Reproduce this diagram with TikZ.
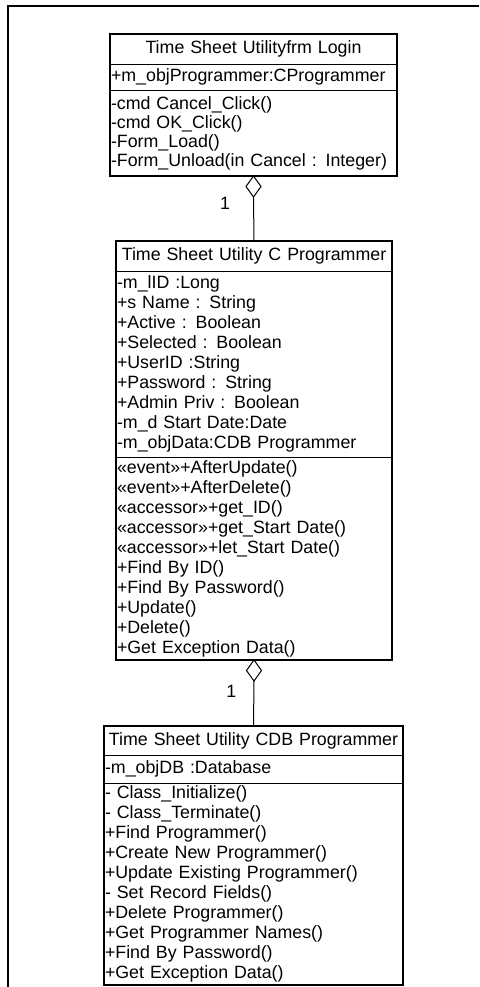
\documentclass[tikz,border=0pt]{standalone}
\usepackage{fontspec}
\setmainfont{Liberation Sans}
\usetikzlibrary{positioning,shapes.geometric}

\tikzset{
  classhead/.style={draw, line width=0.8pt, outer sep=0pt, inner sep=1pt, anchor=north},
  compart/.style={draw, line width=0.8pt, outer sep=0pt, inner xsep=1pt, inner ysep=0pt, align=left},
  classframe/.style={line width=1.8pt},
  agg/.style={diamond, draw, fill=white, line width=1pt, minimum width=15pt, minimum height=21pt, inner sep=0pt, outer sep=0pt, anchor=north},
  mult/.style={inner sep=0pt},
}

\begin{document}
\begin{tikzpicture}[x=1pt, y=-1pt, font=\fontsize{17.8}{20}\selectfont]
    \useasboundingbox (0,0) rectangle (479,987);
    \draw[line width=1.2pt] (8,987) -- (8,6) -- (479,6);

    % frmLogin
    \node[classhead, text width=285pt, align=center, minimum height=30pt] (login) at (253.5,34) {Time Sheet Utilityfrm Login};
    \node[compart, text width=285pt, minimum height=26pt, below=0pt of login] (loginattr) {+m\_objProgrammer:CProgrammer};
    \node[compart, text width=285pt, minimum height=86pt, below=0pt of loginattr, font=\fontsize{17.8}{19}\selectfont] (loginops) {-cmd Cancel\_Click()\\-cmd OK\_Click()\\-Form\_Load()\\-Form\_Unload(in Cancel : Integer)};
    \draw[classframe] (login.north west) rectangle (loginops.south east);

    % CProgrammer
    \node[classhead, text width=274pt, align=center, minimum height=30pt] (prog) at (254,241) {Time Sheet Utility C Programmer};
    \node[compart, text width=274pt, minimum height=186pt, below=0pt of prog] (progattr) {-m\_lID :Long\\+s Name : String\\+Active : Boolean\\+Selected : Boolean\\+UserID :String\\+Password : String\\+Admin Priv : Boolean\\-m\_d Start Date:Date\\-m\_objData:CDB Programmer};
    \node[compart, text width=274pt, minimum height=203pt, below=0pt of progattr] (progops) {«event»+AfterUpdate()\\«event»+AfterDelete()\\«accessor»+get\_ID()\\«accessor»+get\_Start Date()\\«accessor»+let\_Start Date()\\+Find By ID()\\+Find By Password()\\+Update()\\+Delete()\\+Get Exception Data()};
    \draw[classframe] (prog.north west) rectangle (progops.south east);

    % CDBProgrammer
    \node[classhead, text width=297pt, align=center, minimum height=29pt] (dbprog) at (253.5,726) {Time Sheet Utility CDB Programmer};
    \node[compart, text width=297pt, minimum height=28pt, below=0pt of dbprog] (dbprogattr) {-m\_objDB :Database};
    \node[compart, text width=297pt, minimum height=202pt, below=0pt of dbprogattr] (dbprogops) {- Class\_Initialize()\\- Class\_Terminate()\\+Find Programmer()\\+Create New Programmer()\\+Update Existing Programmer()\\- Set Record Fields()\\+Delete Programmer()\\+Get Programmer Names()\\+Find By Password()\\+Get Exception Data()};
    \draw[classframe] (dbprog.north west) rectangle (dbprogops.south east);

    % aggregations
    \node[agg] (loginagg) at (loginops.south) {};
    \draw[line width=1pt] (loginagg.south) -- node[mult, pos=0.15, left=23pt] (loginmult) {1} (prog.north);
    \node[agg] (progagg) at (progops.south) {};
    \draw[line width=1pt] (progagg.south) -- node[mult, pos=0.23, left=17pt] (progmult) {1} (dbprog.north);
\end{tikzpicture}
\end{document}
